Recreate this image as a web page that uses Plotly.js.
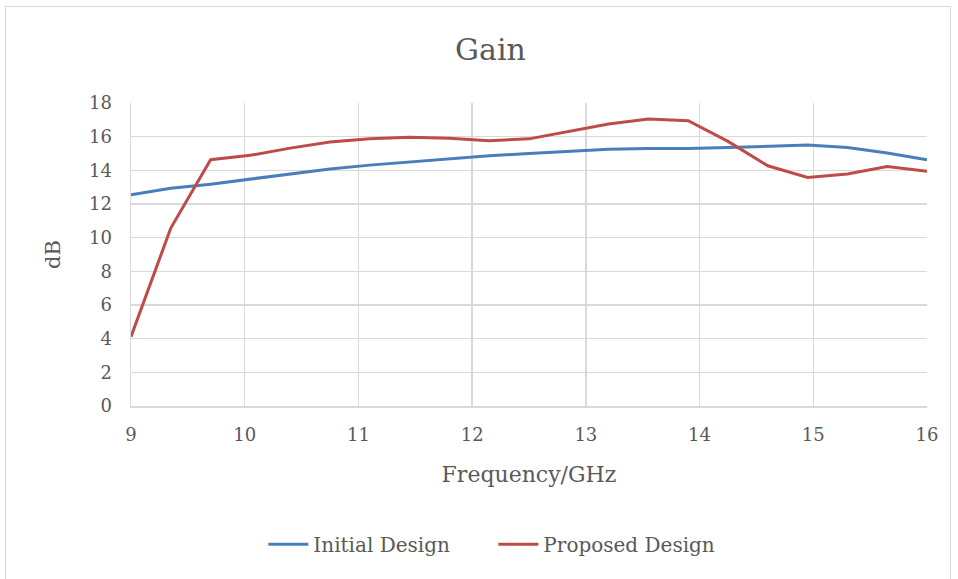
<!DOCTYPE html>
<html>
<head>
<meta charset="utf-8">
<script src="https://cdn.plot.ly/plotly-3.0.1.min.js"></script>
<style>
html,body{margin:0;padding:0;background:#fff;}
#frame{position:absolute;left:5px;top:6px;width:946px;height:580px;border:1px solid #d9d9d9;box-sizing:border-box;}
#chart{position:absolute;left:0;top:0;width:958px;height:579px;}
</style>
</head>
<body>
<div id="frame"></div>
<div id="chart"></div>
<script>
const freq = [9, 9.35, 9.7, 10.05, 10.4, 10.75, 11.1, 11.45, 11.8, 12.15, 12.5, 12.85, 13.2, 13.55, 13.9, 14.25, 14.6, 14.95, 15.3, 15.65, 16];
const initialDesign = [12.55, 12.93, 13.18, 13.48, 13.78, 14.08, 14.31, 14.51, 14.69, 14.87, 15.0, 15.13, 15.25, 15.3, 15.3, 15.35, 15.42, 15.5, 15.35, 15.03, 14.63];
const proposedDesign = [4.12, 10.57, 14.63, 14.89, 15.32, 15.68, 15.88, 15.96, 15.9, 15.76, 15.87, 16.3, 16.75, 17.05, 16.95, 15.72, 14.27, 13.58, 13.78, 14.23, 13.94];
const xTicks = [9, 10, 11, 12, 13, 14, 15, 16];
const yTicks = [0, 2, 4, 6, 8, 10, 12, 14, 16, 18];

const font = 'DejaVu Serif, Liberation Serif, serif';
const grey = '#595959';

const traces = [
  {x: freq, y: initialDesign, name: 'Initial Design', type: 'scatter', mode: 'lines',
   line: {color: '#4A7EBB', width: 3}},
  {x: freq, y: proposedDesign, name: 'Proposed Design', type: 'scatter', mode: 'lines',
   line: {color: '#BE4B48', width: 3}}
];

const layout = {
  width: 958, height: 579,
  paper_bgcolor: 'rgba(0,0,0,0)', plot_bgcolor: '#fff',
  margin: {l: 131, r: 31, t: 103, b: 173},
  font: {family: font, color: grey, size: 18},
  title: {text: 'Gain', font: {family: font, size: 30, color: grey}, x: 0.512, xanchor: 'center', y: 0.915, yanchor: 'middle'},
  xaxis: {
    range: [9, 16], tickvals: xTicks, ticktext: xTicks.map(String),
    showgrid: true, gridcolor: '#d9d9d9', gridwidth: 1.5,
    showline: true, linecolor: '#d9d9d9', linewidth: 1.5,
    zeroline: false, ticks: '', ticklabelstandoff: 12,
    tickfont: {size: 18, color: grey, family: font},
    title: {text: 'Frequency/GHz', font: {size: 22, color: grey, family: font}, standoff: 22}
  },
  yaxis: {
    range: [0, 18], tickvals: yTicks, ticktext: yTicks.map(String),
    showgrid: true, gridcolor: '#d9d9d9', gridwidth: 1.5,
    showline: true, linecolor: '#d9d9d9', linewidth: 1.5,
    zeroline: false, ticks: '', ticklabelstandoff: 14,
    tickfont: {size: 18, color: grey, family: font},
    title: {text: 'dB', font: {size: 21, color: grey, family: font}, standoff: 22}
  },
  showlegend: true,
  legend: {orientation: 'h', xref: 'container', yref: 'container', x: 0.515, xanchor: 'center', y: 0.06, yanchor: 'middle',
           font: {size: 20, color: grey, family: font}, itemwidth: 40, tracegroupgap: 0,
           entrywidth: 175, entrywidthmode: 'pixels'},
  hovermode: false
};

Plotly.newPlot('chart', traces, layout, {displayModeBar: false, staticPlot: true});
</script>
</body>
</html>
